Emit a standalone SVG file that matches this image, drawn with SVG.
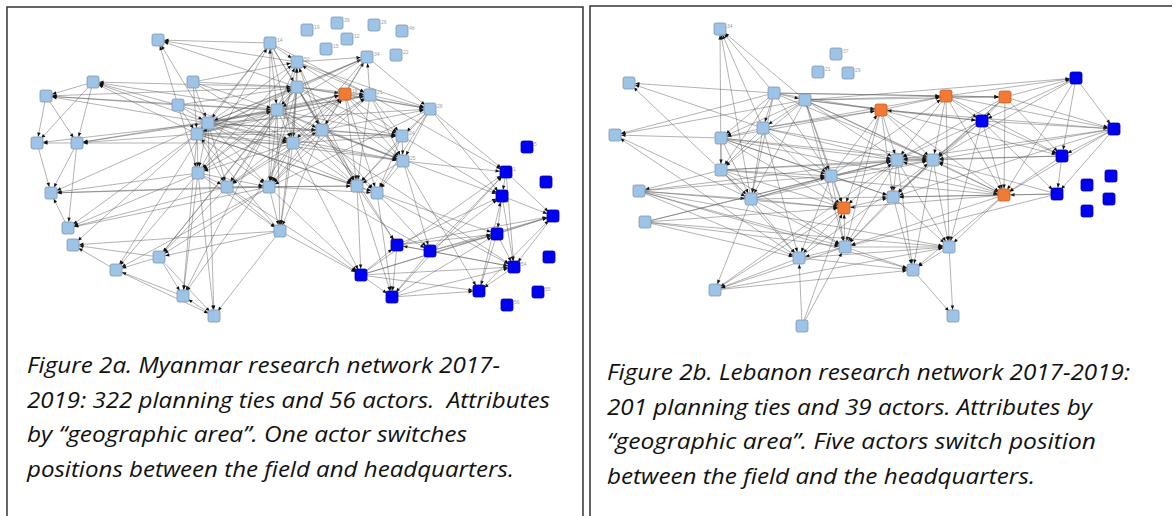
<svg xmlns="http://www.w3.org/2000/svg" width="1175" height="516" viewBox="0 0 1175 516">
<defs>
<style>
.frame{stroke:#333;stroke-width:1.5;fill:none}
.edge path{fill:none;stroke:#555;stroke-opacity:.6;stroke-width:.75;marker-end:url(#ar)}
.lt rect{fill:#9DC3E6;stroke:#8197b0;stroke-width:.8}
.dk rect{fill:#0000F2;stroke:#0000a0;stroke-width:.8}
.or rect{fill:#F27A32;stroke:#c25f28;stroke-width:.8}
.lbl{font-family:"Liberation Sans",Arial,sans-serif;font-size:5px;fill:#a0a0a0}
.cap{font-family:"Open Sans","Noto Sans",sans-serif;font-style:italic;font-size:21px;fill:#111}
</style>
<marker id="ar" markerUnits="userSpaceOnUse" viewBox="0 -2 12 4" markerWidth="12" markerHeight="4" refX="10.5" refY="0" orient="auto" overflow="visible">
<path d="M0,-1.7L4.2,0L0,1.7z" fill="#111"/>
</marker>
</defs>
<rect width="1175" height="516" fill="#fff"/>

<!-- panel frames -->
<path class="frame" d="M7 516V7H583V516"/>
<path class="frame" d="M590 516V6H1172"/>

<!-- ties, Myanmar network -->
<g id="edges-left" class="edge">
<path d="M270 43L158 40"/><path d="M297 62L158 40"/><path d="M178 105L158 40"/><path d="M297 87L158 40"/><path d="M208 123L158 40"/>
<path d="M270 43L208 123"/><path d="M270 43L197 134"/><path d="M270 43L297 87"/><path d="M270 43L277 110"/><path d="M270 43L293 143"/>
<path d="M270 43L322 130"/><path d="M270 43L370 95"/><path d="M270 43L297 62"/><path d="M198 173L270 43"/><path d="M269 187L270 43"/>
<path d="M178 105L93 82"/><path d="M208 123L93 82"/><path d="M197 134L93 82"/><path d="M297 87L93 82"/><path d="M277 110L93 82"/>
<path d="M93 82L46 96"/><path d="M93 82L77 143"/><path d="M93 82L37 143"/><path d="M178 105L46 96"/><path d="M208 123L46 96"/>
<path d="M297 87L46 96"/><path d="M46 96L77 143"/><path d="M277 110L46 96"/><path d="M77 143L37 143"/><path d="M208 123L37 143"/>
<path d="M46 96L37 143"/><path d="M197 134L77 143"/><path d="M208 123L77 143"/><path d="M277 110L77 143"/><path d="M293 143L77 143"/>
<path d="M77 143L51 193"/><path d="M37 143L51 193"/><path d="M198 173L51 193"/><path d="M227 187L51 193"/><path d="M208 123L51 193"/>
<path d="M68 228L51 193"/><path d="M269 187L51 193"/><path d="M198 173L68 228"/><path d="M227 187L68 228"/><path d="M269 187L68 228"/>
<path d="M197 134L68 228"/><path d="M77 143L68 228"/><path d="M116 270L73 245"/><path d="M159 257L73 245"/><path d="M280 231L73 245"/>
<path d="M197 134L73 245"/><path d="M159 257L116 270"/><path d="M198 173L116 270"/><path d="M208 123L116 270"/><path d="M183 296L116 270"/>
<path d="M269 187L116 270"/><path d="M227 187L159 257"/><path d="M269 187L159 257"/><path d="M277 110L159 257"/><path d="M297 87L159 257"/>
<path d="M280 231L159 257"/><path d="M159 257L183 296"/><path d="M198 173L183 296"/><path d="M197 134L183 296"/><path d="M277 110L183 296"/>
<path d="M293 143L183 296"/><path d="M214 316L183 296"/><path d="M159 257L214 316"/><path d="M280 231L214 316"/><path d="M198 173L214 316"/>
<path d="M116 270L214 316"/><path d="M208 123L214 316"/><path d="M198 173L280 231"/><path d="M227 187L280 231"/><path d="M269 187L280 231"/>
<path d="M293 143L280 231"/><path d="M277 110L280 231"/><path d="M322 130L280 231"/><path d="M297 87L280 231"/><path d="M280 231L197 134"/>
<path d="M193 82L208 123"/><path d="M193 82L297 87"/><path d="M193 82L277 110"/><path d="M193 82L293 143"/><path d="M193 82L297 62"/>
<path d="M193 82L197 134"/><path d="M178 105L208 123"/><path d="M178 105L197 134"/><path d="M178 105L297 87"/><path d="M178 105L277 110"/>
<path d="M178 105L293 143"/><path d="M178 105L198 173"/><path d="M208 123L297 87"/><path d="M208 123L277 110"/><path d="M208 123L293 143"/>
<path d="M208 123L322 130"/><path d="M208 123L345 94"/><path d="M208 123L370 95"/><path d="M208 123L297 62"/><path d="M208 123L227 187"/>
<path d="M208 123L198 173"/><path d="M208 123L269 187"/><path d="M208 123L402 136"/><path d="M208 123L403 161"/><path d="M208 123L430 109"/>
<path d="M208 123L357 186"/><path d="M197 134L297 87"/><path d="M197 134L277 110"/><path d="M197 134L293 143"/><path d="M197 134L322 130"/>
<path d="M197 134L345 94"/><path d="M197 134L370 95"/><path d="M197 134L198 173"/><path d="M197 134L227 187"/><path d="M197 134L269 187"/>
<path d="M197 134L403 161"/><path d="M197 134L357 186"/><path d="M197 134L377 193"/><path d="M197 134L402 136"/><path d="M297 87L277 110"/>
<path d="M297 87L293 143"/><path d="M297 87L322 130"/><path d="M297 87L345 94"/><path d="M297 87L370 95"/><path d="M297 87L297 62"/>
<path d="M297 87L367 57"/><path d="M297 87L198 173"/><path d="M297 87L227 187"/><path d="M297 87L269 187"/><path d="M297 87L357 186"/>
<path d="M297 87L402 136"/><path d="M297 87L403 161"/><path d="M297 87L430 109"/><path d="M277 110L293 143"/><path d="M277 110L322 130"/>
<path d="M277 110L345 94"/><path d="M277 110L370 95"/><path d="M277 110L198 173"/><path d="M277 110L227 187"/><path d="M277 110L269 187"/>
<path d="M277 110L357 186"/><path d="M277 110L377 193"/><path d="M277 110L403 161"/><path d="M277 110L402 136"/><path d="M277 110L297 62"/>
<path d="M293 143L322 130"/><path d="M293 143L345 94"/><path d="M293 143L370 95"/><path d="M293 143L198 173"/><path d="M293 143L227 187"/>
<path d="M293 143L269 187"/><path d="M293 143L357 186"/><path d="M293 143L403 161"/><path d="M293 143L402 136"/><path d="M293 143L297 62"/>
<path d="M322 130L345 94"/><path d="M322 130L370 95"/><path d="M322 130L227 187"/><path d="M322 130L269 187"/><path d="M322 130L357 186"/>
<path d="M322 130L377 193"/><path d="M322 130L403 161"/><path d="M322 130L402 136"/><path d="M322 130L430 109"/><path d="M322 130L297 62"/>
<path d="M345 94L370 95"/><path d="M345 94L367 57"/><path d="M345 94L297 62"/><path d="M345 94L430 109"/><path d="M345 94L402 136"/>
<path d="M345 94L403 161"/><path d="M345 94L357 186"/><path d="M345 94L377 193"/><path d="M345 94L269 187"/><path d="M345 94L198 173"/>
<path d="M345 94L227 187"/><path d="M370 95L367 57"/><path d="M370 95L430 109"/><path d="M370 95L402 136"/><path d="M370 95L403 161"/>
<path d="M370 95L357 186"/><path d="M370 95L269 187"/><path d="M297 62L367 57"/><path d="M297 62L370 95"/><path d="M297 62L430 109"/>
<path d="M297 62L198 173"/><path d="M297 62L269 187"/><path d="M297 62L357 186"/><path d="M367 57L430 109"/><path d="M367 57L322 130"/>
<path d="M367 57L277 110"/><path d="M367 57L293 143"/><path d="M367 57L208 123"/><path d="M367 57L197 134"/><path d="M430 109L402 136"/>
<path d="M430 109L403 161"/><path d="M430 109L357 186"/><path d="M430 109L377 193"/><path d="M430 109L269 187"/><path d="M430 109L506 172"/>
<path d="M430 109L502 196"/><path d="M402 136L403 161"/><path d="M402 136L357 186"/><path d="M402 136L377 193"/><path d="M403 161L357 186"/>
<path d="M403 161L377 193"/><path d="M198 173L227 187"/><path d="M198 173L269 187"/><path d="M227 187L269 187"/><path d="M269 187L357 186"/>
<path d="M269 187L377 193"/><path d="M227 187L357 186"/><path d="M357 186L377 193"/>
<path d="M357 186L397 245"/><path d="M377 193L430 251"/><path d="M357 186L361 275"/><path d="M377 193L392 297"/><path d="M403 161L430 251"/>
<path d="M403 161L506 172"/><path d="M402 136L502 196"/><path d="M377 193L497 234"/><path d="M269 187L361 275"/><path d="M357 186L392 297"/>
<path d="M293 143L361 275"/><path d="M280 231L361 275"/><path d="M322 130L502 196"/><path d="M277 110L514 267"/><path d="M370 95L506 172"/>
<path d="M377 193L514 267"/><path d="M403 161L479 291"/><path d="M506 172L502 196"/><path d="M502 196L497 234"/><path d="M497 234L479 291"/>
<path d="M506 172L553 216"/><path d="M502 196L553 216"/><path d="M497 234L553 216"/><path d="M553 216L514 267"/><path d="M514 267L479 291"/>
<path d="M430 251L397 245"/><path d="M430 251L497 234"/><path d="M430 251L514 267"/><path d="M361 275L392 297"/><path d="M392 297L479 291"/>
<path d="M397 245L392 297"/><path d="M430 251L392 297"/><path d="M361 275L479 291"/><path d="M397 245L514 267"/><path d="M361 275L514 267"/>
<path d="M392 297L514 267"/><path d="M506 172L514 267"/><path d="M502 196L514 267"/><path d="M430 251L502 196"/><path d="M397 245L502 196"/>
<path d="M430 251L506 172"/><path d="M361 275L497 234"/><path d="M392 297L497 234"/><path d="M479 291L502 196"/><path d="M430 251L553 216"/>
<path d="M397 245L553 216"/><path d="M361 275L553 216"/><path d="M497 234L514 267"/><path d="M479 291L553 216"/><path d="M361 275L397 245"/>
<path d="M361 275L506 172"/><path d="M392 297L506 172"/><path d="M397 245L497 234"/><path d="M227 187L361 275"/><path d="M297 87L397 245"/>
<path d="M208 123L430 251"/>
</g>

<!-- ties, Lebanon network -->
<g id="edges-right" class="edge">
<path d="M721 170L720 29"/><path d="M774 93L720 29"/><path d="M805 100L720 29"/><path d="M751 199L720 29"/><path d="M763 128L720 29"/>
<path d="M774 93L629 83"/><path d="M751 199L629 83"/><path d="M763 128L629 83"/><path d="M774 93L615 135"/><path d="M805 100L615 135"/>
<path d="M721 138L615 135"/><path d="M799 258L615 135"/><path d="M774 93L805 100"/><path d="M774 93L881 110"/><path d="M774 93L946 96"/>
<path d="M774 93L1005 97"/><path d="M774 93L763 128"/><path d="M774 93L721 138"/><path d="M774 93L721 170"/><path d="M774 93L751 199"/>
<path d="M774 93L831 176"/><path d="M774 93L933 160"/><path d="M805 100L1076 78"/><path d="M805 100L881 110"/><path d="M805 100L946 96"/>
<path d="M805 100L1005 97"/><path d="M805 100L763 128"/><path d="M805 100L721 138"/><path d="M805 100L721 170"/><path d="M805 100L751 199"/>
<path d="M805 100L831 176"/><path d="M805 100L897 160"/><path d="M805 100L933 160"/><path d="M805 100L982 121"/><path d="M805 100L844 208"/>
<path d="M805 100L1004 195"/><path d="M805 100L845 247"/><path d="M763 128L721 138"/><path d="M763 128L721 170"/><path d="M763 128L881 110"/>
<path d="M763 128L897 160"/><path d="M763 128L933 160"/><path d="M763 128L831 176"/><path d="M763 128L751 199"/><path d="M763 128L844 208"/>
<path d="M763 128L799 258"/><path d="M763 128L946 96"/><path d="M721 138L721 170"/><path d="M721 138L881 110"/><path d="M721 138L751 199"/>
<path d="M721 138L831 176"/><path d="M721 138L897 160"/><path d="M721 138L893 197"/><path d="M721 138L844 208"/><path d="M721 138L933 160"/>
<path d="M721 138L1004 195"/><path d="M721 170L751 199"/><path d="M721 170L831 176"/><path d="M721 170L897 160"/><path d="M721 170L933 160"/>
<path d="M721 170L844 208"/><path d="M721 170L639 191"/><path d="M721 170L799 258"/><path d="M721 170L845 247"/><path d="M721 170L1004 195"/>
<path d="M639 191L751 199"/><path d="M639 191L831 176"/><path d="M639 191L844 208"/><path d="M639 191L799 258"/><path d="M639 191L897 160"/>
<path d="M639 191L845 247"/><path d="M645 222L799 258"/><path d="M645 222L844 208"/><path d="M645 222L845 247"/><path d="M645 222L897 160"/>
<path d="M645 222L831 176"/><path d="M751 199L831 176"/><path d="M751 199L844 208"/><path d="M751 199L799 258"/><path d="M751 199L715 290"/>
<path d="M751 199L845 247"/><path d="M751 199L897 160"/><path d="M751 199L893 197"/><path d="M751 199L933 160"/><path d="M831 176L844 208"/>
<path d="M831 176L897 160"/><path d="M831 176L933 160"/><path d="M831 176L881 110"/><path d="M831 176L946 96"/><path d="M831 176L845 247"/>
<path d="M831 176L799 258"/><path d="M881 110L946 96"/><path d="M881 110L982 121"/><path d="M881 110L897 160"/><path d="M881 110L933 160"/>
<path d="M881 110L844 208"/><path d="M881 110L893 197"/><path d="M881 110L1004 195"/><path d="M881 110L1062 156"/><path d="M881 110L845 247"/>
<path d="M946 96L1005 97"/><path d="M946 96L982 121"/><path d="M946 96L897 160"/><path d="M946 96L933 160"/><path d="M946 96L1004 195"/>
<path d="M946 96L1114 129"/><path d="M946 96L949 247"/><path d="M946 96L1062 156"/><path d="M1005 97L1076 78"/><path d="M1005 97L982 121"/>
<path d="M1005 97L1114 129"/><path d="M1005 97L1004 195"/><path d="M1005 97L933 160"/><path d="M1005 97L1062 156"/><path d="M1005 97L897 160"/>
<path d="M1005 97L893 197"/><path d="M1076 78L1114 129"/><path d="M1076 78L1062 156"/><path d="M1076 78L982 121"/><path d="M1076 78L1004 195"/>
<path d="M1076 78L933 160"/><path d="M946 96L1076 78"/><path d="M982 121L1114 129"/><path d="M982 121L1062 156"/><path d="M982 121L1057 194"/>
<path d="M982 121L897 160"/><path d="M982 121L933 160"/><path d="M982 121L1004 195"/><path d="M982 121L893 197"/><path d="M982 121L949 247"/>
<path d="M1114 129L1062 156"/><path d="M1114 129L1057 194"/><path d="M1114 129L1004 195"/><path d="M1114 129L933 160"/><path d="M1114 129L897 160"/>
<path d="M1114 129L893 197"/><path d="M1114 129L881 110"/><path d="M1062 156L1057 194"/><path d="M1062 156L1004 195"/><path d="M1062 156L933 160"/>
<path d="M1062 156L897 160"/><path d="M1057 194L1004 195"/><path d="M1004 195L893 197"/><path d="M1004 195L949 247"/><path d="M1004 195L845 247"/>
<path d="M1004 195L897 160"/><path d="M1004 195L933 160"/><path d="M1004 195L913 270"/><path d="M1004 195L844 208"/><path d="M897 160L933 160"/>
<path d="M897 160L893 197"/><path d="M897 160L949 247"/><path d="M897 160L913 270"/><path d="M897 160L845 247"/><path d="M897 160L844 208"/>
<path d="M933 160L893 197"/><path d="M933 160L949 247"/><path d="M933 160L913 270"/><path d="M933 160L845 247"/><path d="M893 197L949 247"/>
<path d="M893 197L913 270"/><path d="M893 197L845 247"/><path d="M845 247L844 208"/><path d="M845 247L799 258"/><path d="M845 247L715 290"/>
<path d="M845 247L949 247"/><path d="M845 247L913 270"/><path d="M844 208L799 258"/><path d="M844 208L715 290"/><path d="M844 208L893 197"/>
<path d="M799 258L715 290"/><path d="M802 326L799 258"/><path d="M799 258L949 247"/><path d="M799 258L913 270"/><path d="M802 326L845 247"/>
<path d="M949 247L953 316"/><path d="M913 270L953 316"/><path d="M949 247L913 270"/><path d="M639 191L913 270"/><path d="M645 222L949 247"/>
<path d="M639 191L949 247"/><path d="M715 290L949 247"/><path d="M715 290L913 270"/><path d="M615 135L751 199"/><path d="M802 326L844 208"/>
<path d="M831 176L893 197"/><path d="M1057 194L933 160"/><path d="M1057 194L893 197"/><path d="M1057 194L845 247"/><path d="M799 258L933 160"/>
<path d="M715 290L897 160"/>
</g>

<!-- actors, Myanmar network -->
<g id="m-a1" class="lt"><rect x="152" y="34" width="12" height="12" rx="2"/></g>
<g id="m-a2" class="lt"><rect x="264" y="37" width="12" height="12" rx="2"/><text class="lbl" x="277" y="42">14</text></g>
<g id="m-a3" class="lt"><rect x="291" y="56" width="12" height="12" rx="2"/><text class="lbl" x="304" y="61">50</text></g>
<g id="m-a4" class="lt"><rect x="291" y="81" width="12" height="12" rx="2"/></g>
<g id="m-a5" class="lt"><rect x="361" y="51" width="12" height="12" rx="2"/><text class="lbl" x="374" y="56">34</text></g>
<g id="m-a6" class="lt"><rect x="364" y="89" width="12" height="12" rx="2"/><text class="lbl" x="377" y="94">21</text></g>
<g id="m-a7" class="lt"><rect x="424" y="103" width="12" height="12" rx="2"/><text class="lbl" x="437" y="108">28</text></g>
<g id="m-a8" class="lt"><rect x="87" y="76" width="12" height="12" rx="2"/></g>
<g id="m-a9" class="lt"><rect x="40" y="90" width="12" height="12" rx="2"/></g>
<g id="m-a10" class="lt"><rect x="187" y="76" width="12" height="12" rx="2"/></g>
<g id="m-a11" class="lt"><rect x="172" y="99" width="12" height="12" rx="2"/></g>
<g id="m-a12" class="lt"><rect x="271" y="104" width="12" height="12" rx="2"/></g>
<g id="m-a13" class="lt"><rect x="202" y="117" width="12" height="12" rx="2"/></g>
<g id="m-a14" class="lt"><rect x="191" y="128" width="12" height="12" rx="2"/></g>
<g id="m-a15" class="lt"><rect x="31" y="137" width="12" height="12" rx="2"/></g>
<g id="m-a16" class="lt"><rect x="71" y="137" width="12" height="12" rx="2"/></g>
<g id="m-a17" class="lt"><rect x="287" y="137" width="12" height="12" rx="2"/></g>
<g id="m-a18" class="lt"><rect x="316" y="124" width="12" height="12" rx="2"/></g>
<g id="m-a19" class="lt"><rect x="396" y="130" width="12" height="12" rx="2"/><text class="lbl" x="409" y="135">24</text></g>
<g id="m-a20" class="lt"><rect x="397" y="155" width="12" height="12" rx="2"/><text class="lbl" x="410" y="160">25</text></g>
<g id="m-a21" class="lt"><rect x="45" y="187" width="12" height="12" rx="2"/></g>
<g id="m-a22" class="lt"><rect x="62" y="222" width="12" height="12" rx="2"/></g>
<g id="m-a23" class="lt"><rect x="67" y="239" width="12" height="12" rx="2"/></g>
<g id="m-a24" class="lt"><rect x="192" y="167" width="12" height="12" rx="2"/></g>
<g id="m-a25" class="lt"><rect x="221" y="181" width="12" height="12" rx="2"/></g>
<g id="m-a26" class="lt"><rect x="263" y="181" width="12" height="12" rx="2"/></g>
<g id="m-a27" class="lt"><rect x="274" y="225" width="12" height="12" rx="2"/></g>
<g id="m-a28" class="lt"><rect x="153" y="251" width="12" height="12" rx="2"/></g>
<g id="m-a29" class="lt"><rect x="110" y="264" width="12" height="12" rx="2"/></g>
<g id="m-a30" class="lt"><rect x="177" y="290" width="12" height="12" rx="2"/></g>
<g id="m-a31" class="lt"><rect x="208" y="310" width="12" height="12" rx="2"/></g>
<g id="m-a32" class="lt"><rect x="351" y="180" width="12" height="12" rx="2"/></g>
<g id="m-a33" class="lt"><rect x="371" y="187" width="12" height="12" rx="2"/></g>
<g id="m-i1" class="lt"><rect x="301" y="24" width="12" height="12" rx="2"/><text class="lbl" x="314" y="29">19</text></g>
<g id="m-i2" class="lt"><rect x="331" y="17" width="12" height="12" rx="2"/><text class="lbl" x="344" y="22">39</text></g>
<g id="m-i3" class="lt"><rect x="368" y="19" width="12" height="12" rx="2"/><text class="lbl" x="381" y="24">26</text></g>
<g id="m-i4" class="lt"><rect x="396" y="25" width="12" height="12" rx="2"/><text class="lbl" x="409" y="30">46</text></g>
<g id="m-i5" class="lt"><rect x="341" y="33" width="12" height="12" rx="2"/><text class="lbl" x="354" y="38">12</text></g>
<g id="m-i6" class="lt"><rect x="320" y="43" width="12" height="12" rx="2"/><text class="lbl" x="333" y="48">15</text></g>
<g id="m-i7" class="lt"><rect x="390" y="49" width="12" height="12" rx="2"/><text class="lbl" x="403" y="54">22</text></g>
<g id="m-o1" class="or"><rect x="339" y="88" width="12" height="12" rx="2"/><text class="lbl" x="352" y="93">18</text></g>
<g id="m-d1" class="dk"><rect x="521" y="141" width="12" height="12" rx="2"/><text class="lbl" x="534" y="146">5</text></g>
<g id="m-d2" class="dk"><rect x="500" y="166" width="12" height="12" rx="2"/><text class="lbl" x="513" y="171">1</text></g>
<g id="m-d3" class="dk"><rect x="540" y="176" width="12" height="12" rx="2"/></g>
<g id="m-d4" class="dk"><rect x="496" y="190" width="12" height="12" rx="2"/></g>
<g id="m-d5" class="dk"><rect x="547" y="210" width="12" height="12" rx="2"/></g>
<g id="m-d6" class="dk"><rect x="491" y="228" width="12" height="12" rx="2"/></g>
<g id="m-d7" class="dk"><rect x="391" y="239" width="12" height="12" rx="2"/></g>
<g id="m-d8" class="dk"><rect x="424" y="245" width="12" height="12" rx="2"/></g>
<g id="m-d9" class="dk"><rect x="543" y="251" width="12" height="12" rx="2"/></g>
<g id="m-d10" class="dk"><rect x="508" y="261" width="12" height="12" rx="2"/><text class="lbl" x="521" y="266">54</text></g>
<g id="m-d11" class="dk"><rect x="355" y="269" width="12" height="12" rx="2"/></g>
<g id="m-d12" class="dk"><rect x="473" y="285" width="12" height="12" rx="2"/></g>
<g id="m-d13" class="dk"><rect x="386" y="291" width="12" height="12" rx="2"/></g>
<g id="m-d14" class="dk"><rect x="532" y="286" width="12" height="12" rx="2"/><text class="lbl" x="545" y="291">55</text></g>
<g id="m-d15" class="dk"><rect x="501" y="299" width="12" height="12" rx="2"/><text class="lbl" x="514" y="304">56</text></g>

<!-- actors, Lebanon network -->
<g id="l-b1" class="lt"><rect x="714" y="23" width="12" height="12" rx="2"/><text class="lbl" x="727" y="28">34</text></g>
<g id="l-b2" class="lt"><rect x="623" y="77" width="12" height="12" rx="2"/></g>
<g id="l-b3" class="lt"><rect x="768" y="87" width="12" height="12" rx="2"/></g>
<g id="l-b4" class="lt"><rect x="799" y="94" width="12" height="12" rx="2"/></g>
<g id="l-b5" class="lt"><rect x="609" y="129" width="12" height="12" rx="2"/></g>
<g id="l-b6" class="lt"><rect x="757" y="122" width="12" height="12" rx="2"/></g>
<g id="l-b7" class="lt"><rect x="715" y="132" width="12" height="12" rx="2"/></g>
<g id="l-b8" class="lt"><rect x="715" y="164" width="12" height="12" rx="2"/></g>
<g id="l-b9" class="lt"><rect x="891" y="154" width="12" height="12" rx="2"/></g>
<g id="l-b10" class="lt"><rect x="927" y="154" width="12" height="12" rx="2"/></g>
<g id="l-b11" class="lt"><rect x="633" y="185" width="12" height="12" rx="2"/></g>
<g id="l-b12" class="lt"><rect x="745" y="193" width="12" height="12" rx="2"/></g>
<g id="l-b13" class="lt"><rect x="825" y="170" width="12" height="12" rx="2"/></g>
<g id="l-b14" class="lt"><rect x="639" y="216" width="12" height="12" rx="2"/></g>
<g id="l-b15" class="lt"><rect x="839" y="241" width="12" height="12" rx="2"/></g>
<g id="l-b16" class="lt"><rect x="793" y="252" width="12" height="12" rx="2"/></g>
<g id="l-b17" class="lt"><rect x="709" y="284" width="12" height="12" rx="2"/></g>
<g id="l-b18" class="lt"><rect x="796" y="320" width="12" height="12" rx="2"/></g>
<g id="l-b19" class="lt"><rect x="887" y="191" width="12" height="12" rx="2"/></g>
<g id="l-b20" class="lt"><rect x="943" y="241" width="12" height="12" rx="2"/></g>
<g id="l-b21" class="lt"><rect x="907" y="264" width="12" height="12" rx="2"/></g>
<g id="l-b22" class="lt"><rect x="947" y="310" width="12" height="12" rx="2"/></g>
<g id="l-c1" class="lt"><rect x="830" y="48" width="12" height="12" rx="2"/><text class="lbl" x="843" y="53">37</text></g>
<g id="l-c2" class="lt"><rect x="812" y="66" width="12" height="12" rx="2"/><text class="lbl" x="825" y="71">21</text></g>
<g id="l-c3" class="lt"><rect x="842" y="67" width="12" height="12" rx="2"/><text class="lbl" x="855" y="72">29</text></g>
<g id="l-p1" class="or"><rect x="875" y="104" width="12" height="12" rx="2"/></g>
<g id="l-p2" class="or"><rect x="940" y="90" width="12" height="12" rx="2"/></g>
<g id="l-p3" class="or"><rect x="999" y="91" width="12" height="12" rx="2"/></g>
<g id="l-p4" class="or"><rect x="838" y="202" width="12" height="12" rx="2"/></g>
<g id="l-p5" class="or"><rect x="998" y="189" width="12" height="12" rx="2"/></g>
<g id="l-q1" class="dk"><rect x="1070" y="72" width="12" height="12" rx="2"/></g>
<g id="l-q2" class="dk"><rect x="976" y="115" width="12" height="12" rx="2"/></g>
<g id="l-q3" class="dk"><rect x="1108" y="123" width="12" height="12" rx="2"/></g>
<g id="l-q4" class="dk"><rect x="1056" y="150" width="12" height="12" rx="2"/></g>
<g id="l-q5" class="dk"><rect x="1051" y="188" width="12" height="12" rx="2"/></g>
<g id="l-e1" class="dk"><rect x="1081" y="179" width="12" height="12" rx="2"/></g>
<g id="l-e2" class="dk"><rect x="1105" y="170" width="12" height="12" rx="2"/></g>
<g id="l-e3" class="dk"><rect x="1103" y="193" width="12" height="12" rx="2"/></g>
<g id="l-e4" class="dk"><rect x="1081" y="205" width="12" height="12" rx="2"/></g>

<!-- captions -->
<g id="caption-a" class="cap">
<text x="27" y="373" textLength="473" lengthAdjust="spacingAndGlyphs">Figure 2a. Myanmar research network 2017-</text>
<text x="27" y="408" textLength="523" lengthAdjust="spacingAndGlyphs" xml:space="preserve">2019: 322 planning ties and 56 actors.  Attributes</text>
<text x="27" y="442" textLength="440" lengthAdjust="spacingAndGlyphs">by “geographic area”. One actor switches</text>
<text x="27" y="477" textLength="487" lengthAdjust="spacingAndGlyphs">positions between the field and headquarters.</text>
</g>
<g id="caption-b" class="cap">
<text x="607" y="380" textLength="523" lengthAdjust="spacingAndGlyphs">Figure 2b. Lebanon research network 2017-2019:</text>
<text x="607" y="415" textLength="485" lengthAdjust="spacingAndGlyphs">201 planning ties and 39 actors. Attributes by</text>
<text x="607" y="449" textLength="489" lengthAdjust="spacingAndGlyphs">“geographic area”. Five actors switch position</text>
<text x="607" y="484" textLength="428" lengthAdjust="spacingAndGlyphs">between the field and the headquarters.</text>
</g>
</svg>
